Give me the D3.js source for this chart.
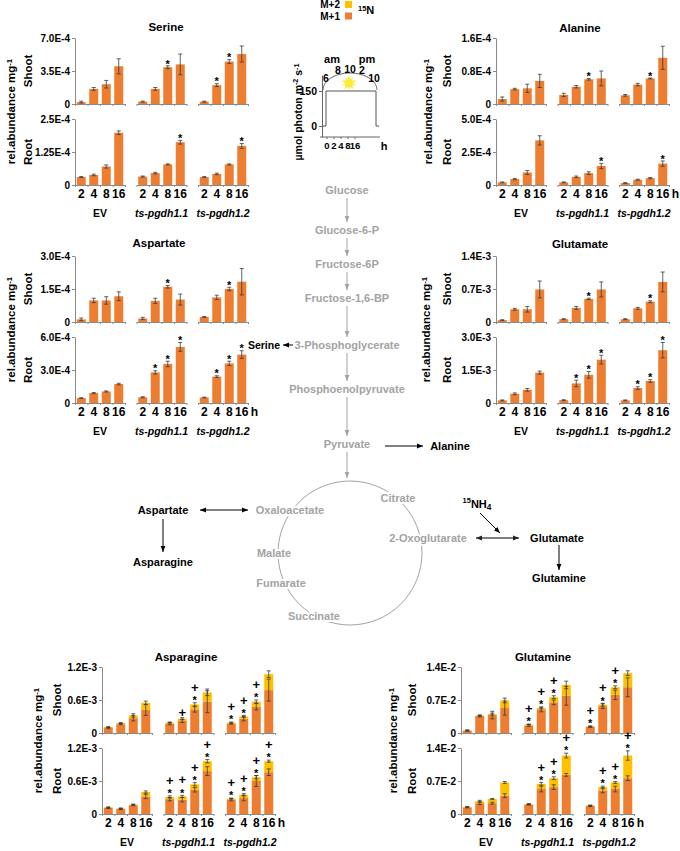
<!DOCTYPE html>
<html><head><meta charset="utf-8">
<script src="https://cdn.jsdelivr.net/npm/d3@7/dist/d3.min.js"></script>
<style>
html,body{margin:0;padding:0;background:#fff}
svg{display:block}
text{font-family:"Liberation Sans",Arial,Helvetica,sans-serif;font-weight:bold;fill:#000}
</style></head><body>
<svg id="fig" width="680" height="851" viewBox="0 0 680 851"></svg>
<script>
// ---------------- DATA ----------------
const groups = ["EV","ts-pgdh1.1","ts-pgdh1.2"];
const times = ["2","4","8","16"];

// Serine
const serineShoot = [[0.20e-4,1.60e-4,2.10e-4,4.00e-4],[0.25e-4,1.60e-4,3.90e-4,4.20e-4],[0.25e-4,2.00e-4,4.50e-4,5.30e-4]];
const serineShootErr = [[0.10e-4,0.15e-4,0.40e-4,0.80e-4],[0.05e-4,0.15e-4,0.15e-4,1.10e-4],[0.05e-4,0.15e-4,0.20e-4,0.85e-4]];
const serineShootStars = [[1,2],[2,1],[2,2]];
const serineShootTicks = [0,3.5e-4,7.0e-4];
const serineShootLabels = ["0","3.5E-4","7.0E-4"];
const serineRoot = [[0.30e-4,0.38e-4,0.70e-4,1.98e-4],[0.32e-4,0.45e-4,0.78e-4,1.62e-4],[0.30e-4,0.42e-4,0.78e-4,1.48e-4]];
const serineRootErr = [[0.02e-4,0.03e-4,0.06e-4,0.07e-4],[0.02e-4,0.03e-4,0.02e-4,0.07e-4],[0.02e-4,0.03e-4,0.02e-4,0.09e-4]];
const serineRootStars = [[1,3],[2,3]];
const serineRootTicks = [0,1.25e-4,2.5e-4];
const serineRootLabels = ["0","1.25E-4","2.5E-4"];

// Alanine
const alanineShoot = [[0.12e-4,0.36e-4,0.38e-4,0.56e-4],[0.22e-4,0.42e-4,0.60e-4,0.62e-4],[0.21e-4,0.47e-4,0.62e-4,1.12e-4]];
const alanineShootErr = [[0.05e-4,0.02e-4,0.10e-4,0.16e-4],[0.04e-4,0.03e-4,0.02e-4,0.18e-4],[0.02e-4,0.03e-4,0.01e-4,0.28e-4]];
const alanineShootStars = [[1,2],[2,2]];
const alanineShootTicks = [0,0.8e-4,1.6e-4];
const alanineShootLabels = ["0","0.8E-4","1.6E-4"];
const alanineRoot = [[0.20e-4,0.45e-4,0.95e-4,3.38e-4],[0.20e-4,0.62e-4,0.90e-4,1.44e-4],[0.15e-4,0.40e-4,0.52e-4,1.62e-4]];
const alanineRootErr = [[0.03e-4,0.05e-4,0.15e-4,0.35e-4],[0.03e-4,0.06e-4,0.10e-4,0.20e-4],[0.03e-4,0.04e-4,0.05e-4,0.20e-4]];
const alanineRootStars = [[1,3],[2,3]];
const alanineRootTicks = [0,2.5e-4,5.0e-4];
const alanineRootLabels = ["0","2.5E-4","5.0E-4"];

// Aspartate
const aspartateShoot = [[0.12e-4,0.98e-4,0.98e-4,1.17e-4],[0.16e-4,0.96e-4,1.60e-4,1.02e-4],[0.23e-4,1.12e-4,1.50e-4,1.83e-4]];
const aspartateShootErr = [[0.06e-4,0.10e-4,0.17e-4,0.20e-4],[0.05e-4,0.12e-4,0.06e-4,0.25e-4],[0.02e-4,0.10e-4,0.08e-4,0.60e-4]];
const aspartateShootStars = [[1,2],[2,2]];
const aspartateShootTicks = [0,1.5e-4,3.0e-4];
const aspartateShootLabels = ["0","1.5E-4","3.0E-4"];
const aspartateRoot = [[0.45e-4,0.90e-4,1.05e-4,1.72e-4],[0.52e-4,2.78e-4,3.55e-4,5.10e-4],[0.50e-4,2.40e-4,3.60e-4,4.40e-4]];
const aspartateRootErr = [[0.03e-4,0.05e-4,0.05e-4,0.07e-4],[0.05e-4,0.15e-4,0.25e-4,0.40e-4],[0.03e-4,0.08e-4,0.20e-4,0.35e-4]];
const aspartateRootStars = [[1,1],[1,2],[1,3],[2,1],[2,2],[2,3]];
const aspartateRootTicks = [0,3.0e-4,6.0e-4];
const aspartateRootLabels = ["0","3.0E-4","6.0E-4"];

// Glutamate
const glutamateShoot = [[0.04e-3,0.27e-3,0.27e-3,0.69e-3],[0.06e-3,0.30e-3,0.49e-3,0.69e-3],[0.06e-3,0.29e-3,0.43e-3,0.85e-3]];
const glutamateShootErr = [[0.01e-3,0.02e-3,0.06e-3,0.18e-3],[0.01e-3,0.03e-3,0.015e-3,0.16e-3],[0.01e-3,0.02e-3,0.02e-3,0.21e-3]];
const glutamateShootStars = [[1,2],[2,2]];
const glutamateShootTicks = [0,0.7e-3,1.4e-3];
const glutamateShootLabels = ["0","0.7E-3","1.4E-3"];
const glutamateRoot = [[0.12e-3,0.42e-3,0.60e-3,1.38e-3],[0.13e-3,0.89e-3,1.28e-3,1.97e-3],[0.12e-3,0.68e-3,1.00e-3,2.40e-3]];
const glutamateRootErr = [[0.02e-3,0.04e-3,0.06e-3,0.07e-3],[0.02e-3,0.15e-3,0.15e-3,0.20e-3],[0.02e-3,0.06e-3,0.06e-3,0.35e-3]];
const glutamateRootStars = [[1,1],[1,2],[1,3],[2,1],[2,2],[2,3]];
const glutamateRootTicks = [0,1.5e-3,3.0e-3];
const glutamateRootLabels = ["0","1.5E-3","3.0E-3"];

// Asparagine (stacked M+1 / M+2)
const asparagineShootM1 = [[0.09e-3,0.16e-3,0.27e-3,0.42e-3],[0.17e-3,0.22e-3,0.43e-3,0.57e-3],[0.17e-3,0.26e-3,0.48e-3,0.78e-3]];
const asparagineShootM2 = [[0.02e-3,0.02e-3,0.05e-3,0.13e-3],[0.02e-3,0.04e-3,0.09e-3,0.17e-3],[0.02e-3,0.04e-3,0.09e-3,0.29e-3]];
const asparagineShootM1Err = [[0.01e-3,0.01e-3,0.05e-3,0.10e-3],[0.02e-3,0.03e-3,0.05e-3,0.20e-3],[0.01e-3,0.04e-3,0.06e-3,0.20e-3]];
const asparagineShootTotErr = [[0.01e-3,0.01e-3,0.03e-3,0.03e-3],[0.01e-3,0.02e-3,0.03e-3,0.06e-3],[0.01e-3,0.02e-3,0.03e-3,0.06e-3]];
const asparagineShootStars = [[1,2],[2,0],[2,1],[2,2]];
const asparagineShootPlus = [[1,1],[1,2],[2,0],[2,1],[2,2]];
const asparagineShootTicks = [0,0.6e-3,1.2e-3];
const asparagineShootLabels = ["0","0.6E-3","1.2E-3"];
const asparagineRootM1 = [[0.11e-3,0.09e-3,0.16e-3,0.32e-3],[0.27e-3,0.26e-3,0.44e-3,0.78e-3],[0.26e-3,0.29e-3,0.60e-3,0.76e-3]];
const asparagineRootM2 = [[0.01e-3,0.01e-3,0.01e-3,0.08e-3],[0.04e-3,0.06e-3,0.10e-3,0.18e-3],[0.02e-3,0.06e-3,0.07e-3,0.20e-3]];
const asparagineRootM1Err = [[0.01e-3,0.01e-3,0.01e-3,0.04e-3],[0.03e-3,0.04e-3,0.04e-3,0.08e-3],[0.02e-3,0.05e-3,0.10e-3,0.06e-3]];
const asparagineRootTotErr = [[0.01e-3,0.01e-3,0.01e-3,0.02e-3],[0.02e-3,0.02e-3,0.03e-3,0.03e-3],[0.01e-3,0.02e-3,0.03e-3,0.02e-3]];
const asparagineRootStars = [[1,0],[1,1],[1,2],[1,3],[2,0],[2,1],[2,2],[2,3]];
const asparagineRootPlus = [[1,0],[1,1],[1,2],[1,3],[2,0],[2,1],[2,2],[2,3]];
const asparagineRootTicks = [0,0.6e-3,1.2e-3];
const asparagineRootLabels = ["0","0.6E-3","1.2E-3"];

// Glutamine (stacked M+1 / M+2)
const glutamineShootM1 = [[0.050e-2,0.36e-2,0.38e-2,0.53e-2],[0.16e-2,0.50e-2,0.65e-2,0.79e-2],[0.13e-2,0.57e-2,0.81e-2,0.97e-2]];
const glutamineShootM2 = [[0.005e-2,0.01e-2,0.02e-2,0.16e-2],[0.02e-2,0.03e-2,0.11e-2,0.23e-2],[0.01e-2,0.03e-2,0.16e-2,0.30e-2]];
const glutamineShootM1Err = [[0.01e-2,0.02e-2,0.08e-2,0.15e-2],[0.02e-2,0.05e-2,0.05e-2,0.20e-2],[0.01e-2,0.05e-2,0.10e-2,0.20e-2]];
const glutamineShootTotErr = [[0.01e-2,0.01e-2,0.02e-2,0.05e-2],[0.01e-2,0.02e-2,0.03e-2,0.08e-2],[0.01e-2,0.03e-2,0.03e-2,0.05e-2]];
const glutamineShootStars = [[1,0],[1,1],[1,2],[2,0],[2,1],[2,2]];
const glutamineShootPlus = [[1,0],[1,1],[1,2],[2,0],[2,1],[2,2]];
const glutamineShootTicks = [0,0.7e-2,1.4e-2];
const glutamineShootLabels = ["0","0.7E-2","1.4E-2"];
const glutamineRootM1 = [[0.14e-2,0.23e-2,0.23e-2,0.39e-2],[0.20e-2,0.53e-2,0.57e-2,0.83e-2],[0.17e-2,0.50e-2,0.53e-2,0.76e-2]];
const glutamineRootM2 = [[0.01e-2,0.04e-2,0.09e-2,0.28e-2],[0.01e-2,0.11e-2,0.19e-2,0.41e-2],[0.01e-2,0.07e-2,0.14e-2,0.48e-2]];
const glutamineRootM1Err = [[0.01e-2,0.03e-2,0.02e-2,0.04e-2],[0.01e-2,0.06e-2,0.05e-2,0.03e-2],[0.01e-2,0.05e-2,0.06e-2,0.05e-2]];
const glutamineRootTotErr = [[0.01e-2,0.02e-2,0.01e-2,0.02e-2],[0.01e-2,0.03e-2,0.03e-2,0.05e-2],[0.01e-2,0.02e-2,0.02e-2,0.10e-2]];
const glutamineRootStars = [[1,1],[1,2],[1,3],[2,1],[2,2],[2,3]];
const glutamineRootPlus = [[1,1],[1,2],[1,3],[2,1],[2,2],[2,3]];
const glutamineRootTicks = [0,0.7e-2,1.4e-2];
const glutamineRootLabels = ["0","0.7E-2","1.4E-2"];

// Light regime inset
const lightTicks = [0,150];
const lightProfile = [[5,0],[6,0],[6,150],[22,150],[22,0],[23,0]]; // clock hour, µmol photon
const sampleLabels = ["0","2","4","8","16"];
const clockLabels = ["6","8","10","2","10"];

// Pathway
const pathNames = ["Glucose","Glucose-6-P","Fructose-6P","Fructose-1,6-BP","3-Phosphoglycerate","Phosphoenolpyruvate","Pyruvate"];
const tcaNames = ["Citrate","Oxaloacetate","Malate","Fumarate","Succinate","2-Oxoglutarate"];

// ---------------- DRAWING ----------------
const svg = d3.select("#fig");
const ORANGE="#ED7D31", YELLOW="#FFC000", AXC="#8a8a8a", ERRC="#3a3a3a", GREY="#a3a3a3";

const defs = svg.append("defs");
function marker(id,color){
  defs.append("marker").attr("id",id).attr("viewBox","0 0 8 8").attr("refX",8).attr("refY",4)
    .attr("markerWidth",7).attr("markerHeight",6).attr("markerUnits","userSpaceOnUse").attr("orient","auto-start-reverse")
    .append("path").attr("d","M0,0.8 L8,4 L0,7.2 Z").attr("fill",color);
}
marker("ak","#000"); marker("ag",GREY); marker("ad","#222");

function arrow(x1,y1,x2,y2,color,mid,dbl,w){
  const l = svg.append("line").attr("x1",x1).attr("y1",y1).attr("x2",x2).attr("y2",y2)
    .attr("stroke",color).attr("stroke-width",w||1).attr("marker-end",`url(#${mid})`);
  if(dbl) l.attr("marker-start",`url(#${mid})`);
}

function errBar(g,x,yTop,yBot){
  g.append("line").attr("x1",x).attr("x2",x).attr("y1",yTop).attr("y2",yBot).attr("stroke",ERRC).attr("stroke-width",0.8);
  [yTop,yBot].forEach(yy=>g.append("line").attr("x1",x-2).attr("x2",x+2).attr("y1",yy).attr("y2",yy).attr("stroke",ERRC).attr("stroke-width",0.8));
}
function star(g,x,cy){ g.append("text").attr("x",x).attr("y",cy+6.2).attr("text-anchor","middle").style("font-size","11px").text("*"); }
function plus(g,x,cy){ g.append("text").attr("x",x).attr("y",cy+4.6).attr("text-anchor","middle").style("font-size","13px").text("+"); }

function supText(sel, parts){
  parts.forEach(([s,type])=>{
    const t = sel.append("tspan").text(s);
    if(type==="sup") t.attr("dy","-0.45em").style("font-size","0.68em");
    else if(type==="back") t.attr("dy","0.31em");
  });
}

function drawChart(c){
  const outer = d3.scaleBand().domain(groups).range([c.axisX, c.axisX+184.5]);
  const inner = d3.scaleBand().domain(times).range([0,50]).paddingInner(0.28).paddingOuter(0.14);
  const seg = d3.scaleLinear().domain([0,4]).range([0,50]);
  const bw = inner.bandwidth();
  const cx = (gi,ti)=>outer(groups[gi])+inner(times[ti])+bw/2;
  const cells = d3.cross(d3.range(3), d3.range(4));
  const g = svg.append("g");
  g.append("text").attr("x",c.titleX).attr("y",c.titleY).attr("dy","0.35em").attr("text-anchor","middle")
    .style("font-size","11.5px").text(c.name);
  const rl = g.append("text").attr("transform",`translate(${c.relX},${c.top+73.5}) rotate(-90)`)
    .attr("text-anchor","middle").attr("dy","0.35em").style("font-size","11.5px");
  supText(rl, [["rel.abundance mg",""],["-1","sup"]]);

  [["Shoot",c.shoot,c.top],["Root",c.root,c.top+81]].forEach(([lab,p,top],pi)=>{
    const bottom = top+66;
    const y = d3.scaleLinear().domain([0,p.max]).range([bottom,top]);
    g.append("text").attr("transform",`translate(${c.soX},${top+33}) rotate(-90)`)
      .attr("text-anchor","middle").attr("dy","0.35em").style("font-size","11.5px").text(lab);
    const ya = g.append("g").attr("transform",`translate(${c.axisX},0)`)
      .call(d3.axisLeft(y).tickValues(p.ticks).tickFormat((d,i)=>p.labels[i]).tickSize(3).tickSizeOuter(0).tickPadding(2));
    ya.select(".domain").attr("stroke",AXC);
    ya.selectAll(".tick line").attr("stroke",AXC);
    ya.selectAll(".tick text").style("font-size","10px");
    groups.forEach(gr=>{
      const s = g.append("g").attr("transform",`translate(${outer(gr)},${bottom})`)
        .call(d3.axisBottom(seg).tickValues([0,1,2,3,4]).tickSize(2).tickSizeOuter(0).tickFormat(""));
      s.select(".domain").attr("stroke",AXC);
      s.selectAll(".tick line").attr("stroke",AXC);
    });
    const key = (a,gi,ti)=>a.some(d=>d[0]===gi&&d[1]===ti);
    if(!c.stacked){
      g.selectAll(null).data(cells).join("rect")
        .attr("x",([gi,ti])=>outer(groups[gi])+inner(times[ti])).attr("width",bw)
        .attr("y",([gi,ti])=>y(p.v[gi][ti])).attr("height",([gi,ti])=>bottom-y(p.v[gi][ti]))
        .attr("fill",ORANGE);
      cells.forEach(([gi,ti])=>{
        const v=p.v[gi][ti], e=p.e[gi][ti];
        errBar(g,cx(gi,ti),y(v+e),y(Math.max(0,v-e)));
        if(key(p.stars,gi,ti)) star(g,cx(gi,ti),y(v+e)-4.5);
      });
    } else {
      g.selectAll(null).data(cells).join("rect")
        .attr("x",([gi,ti])=>outer(groups[gi])+inner(times[ti])).attr("width",bw)
        .attr("y",([gi,ti])=>y(p.m1[gi][ti])).attr("height",([gi,ti])=>bottom-y(p.m1[gi][ti]))
        .attr("fill",ORANGE);
      g.selectAll(null).data(cells).join("rect")
        .attr("x",([gi,ti])=>outer(groups[gi])+inner(times[ti])).attr("width",bw)
        .attr("y",([gi,ti])=>y(p.m1[gi][ti]+p.m2[gi][ti])).attr("height",([gi,ti])=>y(p.m1[gi][ti])-y(p.m1[gi][ti]+p.m2[gi][ti]))
        .attr("fill",YELLOW);
      cells.forEach(([gi,ti])=>{
        const m1=p.m1[gi][ti], tot=m1+p.m2[gi][ti], e1=p.e1[gi][ti], et=p.et[gi][ti];
        errBar(g,cx(gi,ti),y(m1+e1),y(Math.max(0,m1-e1)));
        errBar(g,cx(gi,ti),y(tot+et),y(tot-et));
        const top = Math.min(y(tot+et), y(m1+e1));
        const hasS = key(p.stars,gi,ti), hasP = key(p.plus,gi,ti);
        let sc = top-5;
        if(hasS) star(g,cx(gi,ti),sc);
        if(hasP) plus(g,cx(gi,ti), hasS ? sc-10.5 : top-5.5);
      });
    }
    if(pi===1){
      cells.forEach(([gi,ti])=>{
        g.append("text").attr("x",cx(gi,ti)).attr("y",bottom+9).attr("dy","0.35em").attr("text-anchor","middle")
          .style("font-size","12px").text(times[ti]);
      });
      if(c.showH) g.append("text").attr("x",outer(groups[2])+seg(4)+6.5).attr("y",bottom+9).attr("dy","0.35em")
          .attr("text-anchor","middle").style("font-size","12px").text("h");
      groups.forEach((gr,gi)=>{
        g.append("text").attr("x",outer(gr)+25).attr("y",bottom+28).attr("dy","0.35em").attr("text-anchor","middle")
          .style("font-size","10.5px").style("font-style",gi?"italic":"normal").text(gr);
      });
    }
  });
}

const charts = [
  {name:"Serine",axisX:75,top:38,titleX:166,titleY:27,relX:11,soX:28,showH:false,stacked:false,
   shoot:{max:7e-4,ticks:serineShootTicks,labels:serineShootLabels,v:serineShoot,e:serineShootErr,stars:serineShootStars},
   root:{max:2.5e-4,ticks:serineRootTicks,labels:serineRootLabels,v:serineRoot,e:serineRootErr,stars:serineRootStars}},
  {name:"Alanine",axisX:496,top:38,titleX:580,titleY:28,relX:428,soX:447,showH:true,stacked:false,
   shoot:{max:1.6e-4,ticks:alanineShootTicks,labels:alanineShootLabels,v:alanineShoot,e:alanineShootErr,stars:alanineShootStars},
   root:{max:5e-4,ticks:alanineRootTicks,labels:alanineRootLabels,v:alanineRoot,e:alanineRootErr,stars:alanineRootStars}},
  {name:"Aspartate",axisX:75,top:256,titleX:159,titleY:243,relX:11,soX:28,showH:true,stacked:false,
   shoot:{max:3e-4,ticks:aspartateShootTicks,labels:aspartateShootLabels,v:aspartateShoot,e:aspartateShootErr,stars:aspartateShootStars},
   root:{max:6e-4,ticks:aspartateRootTicks,labels:aspartateRootLabels,v:aspartateRoot,e:aspartateRootErr,stars:aspartateRootStars}},
  {name:"Glutamate",axisX:496,top:256,titleX:580,titleY:244,relX:426,soX:447,showH:false,stacked:false,
   shoot:{max:1.4e-3,ticks:glutamateShootTicks,labels:glutamateShootLabels,v:glutamateShoot,e:glutamateShootErr,stars:glutamateShootStars},
   root:{max:3e-3,ticks:glutamateRootTicks,labels:glutamateRootLabels,v:glutamateRoot,e:glutamateRootErr,stars:glutamateRootStars}},
  {name:"Asparagine",axisX:102,top:667,titleX:186,titleY:657,relX:38,soX:57,showH:true,stacked:true,
   shoot:{max:1.2e-3,ticks:asparagineShootTicks,labels:asparagineShootLabels,m1:asparagineShootM1,m2:asparagineShootM2,e1:asparagineShootM1Err,et:asparagineShootTotErr,stars:asparagineShootStars,plus:asparagineShootPlus},
   root:{max:1.2e-3,ticks:asparagineRootTicks,labels:asparagineRootLabels,m1:asparagineRootM1,m2:asparagineRootM2,e1:asparagineRootM1Err,et:asparagineRootTotErr,stars:asparagineRootStars,plus:asparagineRootPlus}},
  {name:"Glutamine",axisX:461,top:667,titleX:543,titleY:657,relX:393,soX:412,showH:true,stacked:true,
   shoot:{max:1.4e-2,ticks:glutamineShootTicks,labels:glutamineShootLabels,m1:glutamineShootM1,m2:glutamineShootM2,e1:glutamineShootM1Err,et:glutamineShootTotErr,stars:glutamineShootStars,plus:glutamineShootPlus},
   root:{max:1.4e-2,ticks:glutamineRootTicks,labels:glutamineRootLabels,m1:glutamineRootM1,m2:glutamineRootM2,e1:glutamineRootM1Err,et:glutamineRootTotErr,stars:glutamineRootStars,plus:glutamineRootPlus}}
];
charts.forEach(drawChart);

// ---- legend ----
[["M+2",YELLOW,4.5],["M+1",ORANGE,16]].forEach(([t,col,yy])=>{
  svg.append("text").attr("x",340).attr("y",yy).attr("dy","0.35em").attr("text-anchor","end").style("font-size","10px").text(t);
  svg.append("rect").attr("x",345).attr("y",yy-3.5).attr("width",7).attr("height",7).attr("fill",col);
});
const nl = svg.append("text").attr("x",358).attr("y",14).attr("dy","0.35em").style("font-size","11px");
supText(nl,[["15","sup"],["N","back"]]);

// ---- light inset ----
const lightY = d3.scaleLinear().domain([0,150]).range([126,91]);
const lightYAx = d3.scaleLinear().domain([lightY.invert(137),lightY.invert(75)]).range([137,75]);
const lightX = d3.scaleLinear().domain([6,22]).range([326,376]);
const sampX = d3.scalePoint().domain(sampleLabels).range([327,355]);
const clockX = d3.scalePoint().domain(d3.range(clockLabels.length)).range([326,374]);
const la = svg.append("g").attr("transform","translate(322,0)")
  .call(d3.axisLeft(lightYAx).tickValues(lightTicks).tickSize(3).tickSizeOuter(0).tickPadding(2));
la.select(".domain").attr("stroke","#666");
la.selectAll(".tick line").attr("stroke","#666");
la.selectAll(".tick text").style("font-size","10.5px");
svg.append("line").attr("x1",320).attr("x2",380).attr("y1",137).attr("y2",137).attr("stroke","#666");
sampleLabels.forEach(s=>{
  svg.append("line").attr("x1",sampX(s)).attr("x2",sampX(s)).attr("y1",137).attr("y2",139).attr("stroke","#666");
  svg.append("text").attr("x",sampX(s)).attr("y",146).attr("dy","0.35em").attr("text-anchor","middle").style("font-size","9.5px").text(s);
});
svg.append("text").attr("x",384).attr("y",146).attr("dy","0.35em").attr("text-anchor","middle").style("font-size","11px").text("h");
svg.append("path").datum(lightProfile)
  .attr("d",d3.line().x(d=>lightX(d[0])).y(d=>lightY(d[1])))
  .attr("fill","none").attr("stroke","#555").attr("stroke-width",1);
// day arc
const arcC = {x:350,y:90,rx:27,ry:17};
const arcPts = d3.range(0,181,6).map(a=>[arcC.x-arcC.rx*Math.cos(a*Math.PI/180), arcC.y-arcC.ry*Math.sin(a*Math.PI/180)]);
svg.append("path").attr("d",d3.line()(arcPts)).attr("fill","none").attr("stroke","#666").attr("stroke-width",1);
clockLabels.forEach((s,i)=>{
  const x = clockX(i); const u = Math.min(1,Math.abs(x-arcC.x)/arcC.rx);
  const yy = arcC.y - arcC.ry*Math.sqrt(1-u*u) - 4;
  svg.append("text").attr("x",x).attr("y",yy).attr("dy","0.35em").attr("text-anchor","middle").style("font-size","10.5px").text(s);
});
svg.append("text").attr("x",332).attr("y",59).attr("dy","0.35em").attr("text-anchor","middle").style("font-size","11px").text("am");
svg.append("text").attr("x",367).attr("y",59).attr("dy","0.35em").attr("text-anchor","middle").style("font-size","11px").text("pm");
svg.append("path").attr("transform","translate(349,83)").attr("d",d3.symbol(d3.symbolStar,70)()).attr("fill","#FFE93B");
svg.append("path").attr("transform","translate(349,83) rotate(36)").attr("d",d3.symbol(d3.symbolStar,55)()).attr("fill","#FFE93B");
const ul = svg.append("text").attr("transform","translate(298,112) rotate(-90)").attr("text-anchor","middle").attr("dy","0.35em").style("font-size","10.5px");
supText(ul,[["\u00b5mol photon m",""],["-2","sup"],[" s","back"],["-1","sup"]]);

// ---- pathway ----
const pathX = 347;
const pathY = [190,230,264,298,345,389,444];
pathNames.forEach((n,i)=>{
  svg.append("text").attr("x",pathX).attr("y",pathY[i]).attr("dy","0.35em").attr("text-anchor","middle")
    .style("font-size","11px").style("fill",GREY).text(n);
  if(i<pathNames.length-1) arrow(pathX,pathY[i]+8,pathX,pathY[i+1]-8,GREY,"ag");
});
arrow(pathX,452,pathX,478,GREY,"ag");
// TCA cycle
svg.append("circle").attr("cx",350).attr("cy",553).attr("r",72).attr("fill","none").attr("stroke",GREY).attr("stroke-width",1);
const tcaPos = [[398,498],[290,510],[274,553],[281,583],[314,616],[428,538]];
tcaNames.forEach((n,i)=>{
  svg.append("text").attr("x",tcaPos[i][0]).attr("y",tcaPos[i][1]).attr("dy","0.35em").attr("text-anchor","middle")
    .style("font-size","11px").style("fill",GREY).style("stroke","#fff").style("stroke-width","4px")
    .style("paint-order","stroke").text(n);
});
// amino acids
const aa = [["Serine",264,345,10.5],["Alanine",450,446,11],["Aspartate",163,510,11],["Asparagine",163,562,11],["Glutamate",557,538,11],["Glutamine",559,578,11]];
aa.forEach(([n,x,y,fs])=>svg.append("text").attr("x",x).attr("y",y).attr("dy","0.35em").attr("text-anchor","middle").style("font-size",fs+"px").text(n));
const nh = svg.append("text").attr("x",477).attr("y",506).attr("dy","0.35em").attr("text-anchor","middle").style("font-size","11px");
nh.append("tspan").text("15").attr("dy","-0.45em").style("font-size","0.68em");
nh.append("tspan").text("NH").attr("dy","0.45em");
nh.append("tspan").text("4").attr("dy","0.3em").style("font-size","0.75em");
arrow(293,345,283,345,"#000","ak");
arrow(385,446,423,446,"#000","ak");
arrow(200,510,248,510,"#000","ak",true);
arrow(163,519,163,552,"#000","ak");
arrow(476,538,519,538,"#555","ad",true,1.4);
arrow(480,513,500,533,"#000","ak");
arrow(559,545,559,570,"#000","ak");
</script>
</body></html>
